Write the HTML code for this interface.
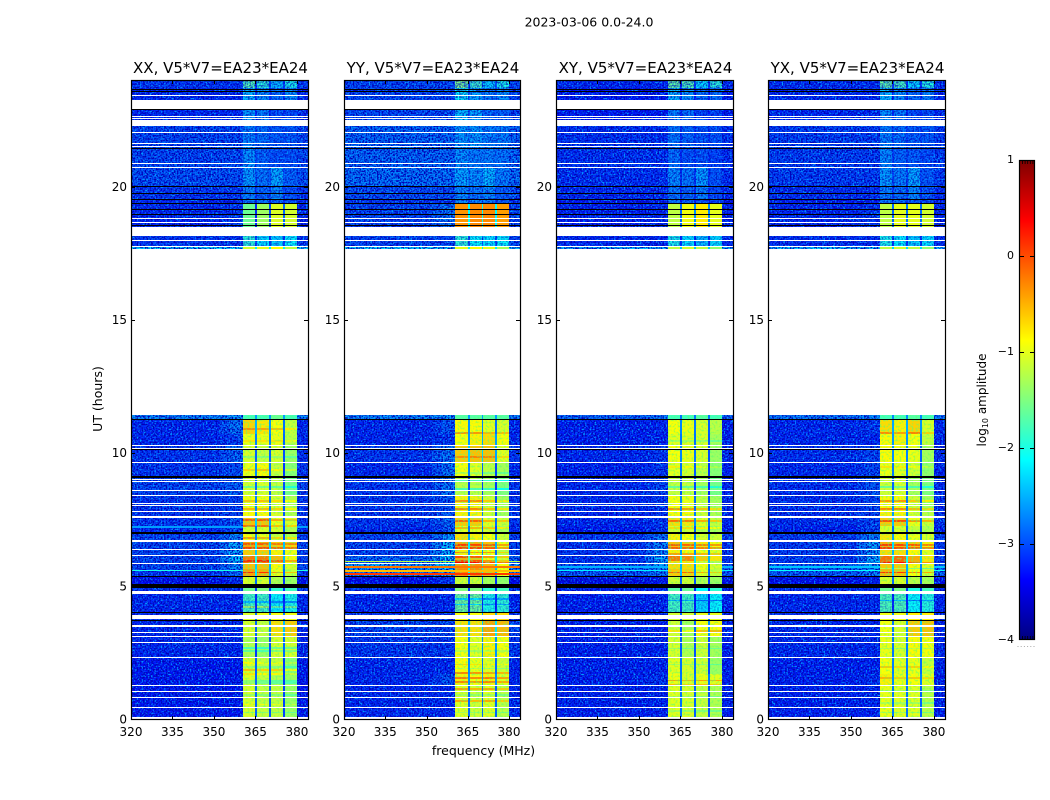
<!DOCTYPE html>
<html lang="en">
<head>
<meta charset="utf-8">
<title>2023-03-06 0.0-24.0</title>
<style>
html,body{margin:0;padding:0;background:#fff;width:1050px;height:800px;overflow:hidden}
svg{display:block;font-family:"DejaVu Sans","Liberation Sans",sans-serif;fill:#000}
</style>
</head>
<body>
<svg id="chart" xmlns="http://www.w3.org/2000/svg" width="1050" height="800" viewBox="0 0 1050 800">
<defs>
<filter id="speckleLight" x="0" y="0" width="100%" height="100%" color-interpolation-filters="sRGB">
<feTurbulence type="fractalNoise" baseFrequency="0.62" numOctaves="1" seed="4"/>
<feColorMatrix type="matrix" values="0 0 0 0 0  0 0 0 0 0.62  0 0 0 0 1  4.2 0 0 0 -1.95"/>
</filter>
<filter id="speckleDark" x="0" y="0" width="100%" height="100%" color-interpolation-filters="sRGB">
<feTurbulence type="fractalNoise" baseFrequency="0.62" numOctaves="1" seed="11"/>
<feColorMatrix type="matrix" values="0 0 0 0 0  0 0 0 0 0  0 0 0 0 0.72  0 4.2 0 0 -1.75"/>
</filter>
<filter id="speckleGreen" x="0" y="0" width="100%" height="100%" color-interpolation-filters="sRGB">
<feTurbulence type="fractalNoise" baseFrequency="0.5" numOctaves="1" seed="23"/>
<feColorMatrix type="matrix" values="0 0 0 0 0.35  0 0 0 0 1  0 0 0 0 0.45  4 0 0 0 -1.85"/>
</filter>
<linearGradient id="jetGradient" x1="0" y1="1" x2="0" y2="0"></linearGradient>
</defs>
<text x="589" y="26.5" text-anchor="middle" font-size="12.5">2023-03-06 0.0-24.0</text>
<text x="483.5" y="755" text-anchor="middle" font-size="12.5">frequency (MHz)</text>
<text x="0" y="0" transform="translate(102,399) rotate(-90)" text-anchor="middle" font-size="12.5">UT (hours)</text>
<text x="0" y="0" transform="translate(986,400) rotate(-90)" text-anchor="middle" font-size="12">log<tspan font-size="8" dy="2">10</tspan><tspan dy="-2"> amplitude</tspan></text>
</svg>
<script>
// ---- axis data ----
const panelTitles = ['XX, V5*V7=EA23*EA24', 'YY, V5*V7=EA23*EA24', 'XY, V5*V7=EA23*EA24', 'YX, V5*V7=EA23*EA24'];
const freqTicks = [320, 335, 350, 365, 380];
const timeTicks = [0, 5, 10, 15, 20];
const colorbarTicks = [1, 0, -1, -2, -3, -4];
// frequency columns (MHz) and which level each column reads
const freqEdges = [320, 352, 355.5, 360.5, 365, 365.7, 370, 370.7, 375, 375.7, 380, 384];
const freqKinds = ['bg', 'mid', 'sh', 's1', 'n12', 's2', 'n23', 's3', 'n34', 's4', 'bg'];
// time segments (hours)
const timeEdges = [24.0, 23.7, 23.0, 22.27, 21.5, 20.75, 20.0, 19.5, 19.38, 18.52, 18.14, 17.76, 17.67, 11.42, 11.28, 10.7, 10.28, 9.66, 9.1, 8.4, 7.8, 7.58, 7.25, 7.0, 6.7, 6.38, 6.15, 5.85, 5.63, 5.36, 5.06, 4.82, 4.05, 3.75, 3.1, 2.35, 1.7, 1.25, 0];
// log10 amplitude per time segment: background, shoulder, sub-band 1..4
const levelsXX = [
[-3.1,-3.1,-1.7,-1.9,-2.4,-2.0],[-3.2,-3.2,-2.4,-2.6,-2.8,-2.6],[-3.2,-3.2,-2.55,-2.7,-3.0,-3.0],[-3.0,-3.0,-2.7,-2.8,-2.9,-2.9],
[-3.0,-3.0,-2.6,-2.85,-2.95,-2.95],[-2.95,-2.95,-2.55,-2.75,-2.45,-2.85],[-3.1,-3.1,-2.7,-2.85,-2.65,-2.95],[-3.2,-3.2,-2.75,-2.75,-2.85,-2.95],
[-3.2,-3.1,-1.6,-1.35,-1.05,-1.1],[-3.2,-3.1,-1.6,-1.35,-1.05,-1.1],[-3.1,-3.1,-1.9,-2.2,-2.3,-2.1],[-2.2,-2.2,-1.1,-1.0,-0.9,-1.2],null,
[-2.6,-2.5,-1.8,-1.8,-1.6,-1.8],[-3.2,-2.7,-0.65,-0.75,-0.9,-1.15],[-3.2,-3.05,-0.95,-0.95,-0.95,-1.2],[-3.1,-2.8,-1.05,-1.15,-1.05,-1.35],
[-3.1,-2.95,-0.95,-0.85,-1.15,-1.45],[-3.0,-2.85,-1.05,-1.05,-1.15,-1.55],[-3.1,-3.0,-0.9,-0.9,-1.05,-1.25],[-3.1,-3.0,-0.85,-0.85,-1.05,-1.25],
[-3.1,-2.9,-0.55,-0.55,-0.95,-1.05],[-3.2,-3.0,-1.05,-1.05,-1.05,-1.25],[-3.0,-2.6,-0.85,-0.95,-1.15,-1.25],[-3.0,-2.4,-0.4,-0.45,-0.6,-0.65],
[-3.0,-2.4,-0.6,-0.6,-0.8,-0.95],[-3.0,-2.3,-0.2,-0.2,-0.5,-0.85],[-3.0,-2.6,-0.55,-0.55,-0.85,-1.05],[-3.1,-2.8,-0.4,-0.45,-0.95,-1.15],
[-3.4,-3.2,-1.05,-1.05,-1.25,-1.35],[-3.1,-3.1,-1.6,-1.5,-1.9,-1.8],[-3.2,-3.2,-1.8,-1.8,-2.1,-2.0],[-3.2,-3.2,-1.05,-0.95,-0.95,-0.95],
[-3.2,-3.2,-1.05,-1.15,-0.7,-0.6],[-3.2,-3.2,-1.25,-1.35,-1.05,-1.05],[-3.3,-3.3,-1.05,-1.15,-1.15,-1.45],[-3.3,-3.3,-1.0,-1.15,-1.25,-1.35],[-3.3,-3.3,-1.05,-1.15,-1.15,-1.35]
];
const levelsYY = [
[-3.0,-3.0,-1.5,-1.8,-2.3,-2.0],[-3.0,-3.0,-2.1,-2.5,-2.7,-2.6],[-3.0,-3.0,-2.35,-2.5,-2.85,-2.85],[-2.8,-2.8,-2.55,-2.55,-2.7,-2.7],
[-2.8,-2.8,-2.6,-2.7,-2.7,-2.75],[-2.75,-2.75,-2.5,-2.6,-2.4,-2.7],[-2.95,-2.95,-2.65,-2.75,-2.65,-2.9],[-3.1,-3.1,-2.6,-2.7,-2.7,-2.85],
[-3.0,-2.7,-0.35,-0.3,-0.3,-0.4],[-3.0,-2.7,-0.35,-0.3,-0.3,-0.4],[-3.0,-3.0,-1.9,-2.1,-2.2,-2.1],[-2.2,-2.2,-1.0,-0.9,-1.0,-1.3],null,
[-2.6,-2.5,-1.7,-1.7,-1.7,-1.7],[-3.2,-2.9,-0.85,-0.85,-1.0,-1.05],[-3.2,-3.1,-0.9,-0.8,-0.7,-0.9],[-3.1,-2.7,-0.6,-0.55,-0.55,-1.0],
[-3.2,-2.7,-0.9,-1.0,-1.2,-1.3],[-3.1,-2.7,-1.2,-1.2,-1.3,-1.5],[-3.1,-2.9,-0.8,-0.8,-1.1,-1.3],[-3.1,-2.9,-0.8,-0.8,-1.1,-1.3],
[-3.1,-2.8,-0.6,-0.6,-1.0,-1.1],[-3.2,-2.9,-1.0,-1.0,-1.1,-1.3],[-3.0,-2.5,-0.7,-0.8,-0.9,-1.1],[-3.0,-2.3,-0.4,-0.45,-0.55,-0.9],
[-3.0,-2.3,-0.8,-0.9,-0.9,-1.2],[-2.8,-2.2,0.05,-0.05,-0.35,-0.6],[-2.4,-2.2,-0.3,-0.3,-0.5,-0.9],[-2.6,-2.4,-0.25,-0.3,-0.5,-0.9],
[-3.4,-3.1,-1.1,-1.1,-1.3,-1.4],[-3.1,-3.1,-1.5,-1.5,-1.9,-1.8],[-3.2,-3.2,-1.6,-1.6,-2.0,-1.9],[-3.1,-3.1,-0.9,-0.9,-0.7,-0.7],
[-3.0,-3.0,-0.7,-0.7,-0.4,-0.5],[-3.1,-3.1,-0.9,-1.0,-0.8,-0.9],[-3.2,-3.2,-0.85,-0.95,-1.0,-1.1],[-3.2,-2.9,-0.8,-0.9,-0.8,-1.0],[-3.2,-3.2,-1.0,-1.1,-1.0,-1.2]
];
const levelsXY = [
[-3.2,-3.2,-1.6,-1.7,-2.2,-1.9],[-3.3,-3.3,-2.4,-2.6,-2.8,-2.8],[-3.3,-3.3,-2.7,-2.8,-3.05,-3.05],[-3.15,-3.15,-2.75,-2.85,-2.95,-2.95],
[-3.15,-3.15,-2.8,-2.95,-2.95,-3.05],[-3.15,-3.15,-2.65,-2.75,-2.55,-2.95],[-3.2,-3.2,-2.75,-2.85,-2.7,-3.0],[-3.3,-3.3,-2.75,-2.85,-2.95,-3.05],
[-3.25,-3.2,-1.2,-0.95,-0.8,-1.0],[-3.25,-3.2,-1.2,-0.95,-0.8,-1.0],[-3.2,-3.2,-2.0,-2.2,-2.4,-2.2],[-2.4,-2.4,-1.2,-1.1,-1.2,-1.4],null,
[-2.8,-2.7,-1.8,-1.8,-1.7,-1.8],[-3.25,-3.2,-0.9,-0.95,-1.05,-1.2],[-3.25,-3.25,-1.0,-1.0,-1.05,-1.3],[-3.2,-3.1,-0.9,-0.95,-1.05,-1.35],
[-3.25,-3.1,-1.0,-1.05,-1.2,-1.45],[-3.2,-3.0,-1.15,-1.15,-1.3,-1.55],[-3.2,-3.1,-0.9,-0.95,-1.15,-1.3],[-3.2,-3.1,-0.85,-0.85,-1.1,-1.25],
[-3.2,-3.1,-0.7,-0.75,-1.0,-1.15],[-3.3,-3.1,-1.1,-1.1,-1.2,-1.3],[-3.1,-2.7,-0.8,-0.9,-1.05,-1.1],[-3.1,-2.6,-0.55,-0.6,-0.75,-0.85],
[-3.1,-2.6,-0.8,-0.85,-0.9,-1.0],[-3.1,-2.4,-0.2,-0.25,-0.6,-0.75],[-2.9,-2.5,-0.7,-0.7,-0.9,-1.05],[-2.9,-2.7,-0.6,-0.65,-1.0,-1.15],
[-3.45,-3.3,-1.1,-1.1,-1.25,-1.35],[-3.2,-3.2,-1.7,-1.6,-2.1,-1.9],[-3.25,-3.25,-1.8,-1.8,-2.3,-2.1],[-3.2,-3.2,-1.1,-1.1,-1.0,-1.0],
[-3.25,-3.25,-1.1,-1.3,-0.9,-0.85],[-3.25,-3.25,-1.05,-1.25,-1.1,-1.3],[-3.25,-3.25,-1.0,-1.05,-1.1,-1.35],[-3.25,-3.15,-0.95,-1.05,-0.95,-1.0],[-3.25,-3.25,-1.0,-1.05,-1.15,-1.25]
];
const levelsYX = [
[-3.15,-3.15,-1.6,-1.75,-2.25,-1.95],[-3.2,-3.2,-2.4,-2.6,-2.8,-2.7],[-3.2,-3.2,-2.6,-2.75,-3.0,-3.0],[-3.05,-3.05,-2.7,-2.8,-2.9,-2.9],
[-3.05,-3.05,-2.65,-2.85,-2.9,-3.0],[-3.05,-3.05,-2.55,-2.7,-2.5,-2.9],[-3.15,-3.15,-2.7,-2.8,-2.65,-2.95],[-3.25,-3.25,-2.75,-2.8,-2.85,-3.0],
[-3.2,-3.1,-1.2,-1.0,-1.0,-1.1],[-3.2,-3.1,-1.2,-1.0,-1.0,-1.1],[-3.15,-3.15,-2.0,-2.15,-2.3,-2.2],[-2.3,-2.3,-1.2,-1.1,-1.2,-1.4],null,
[-2.7,-2.6,-1.8,-1.8,-1.7,-1.8],[-3.2,-3.1,-0.7,-0.8,-0.65,-1.05],[-3.2,-3.2,-0.85,-0.8,-0.9,-1.15],[-3.15,-3.0,-0.85,-0.9,-0.95,-1.3],
[-3.2,-3.0,-0.95,-1.0,-1.1,-1.4],[-3.15,-2.9,-1.1,-1.05,-1.3,-1.5],[-3.15,-3.0,-0.85,-0.85,-1.1,-1.3],[-3.15,-3.0,-0.8,-0.8,-1.05,-1.2],
[-3.15,-3.0,-0.6,-0.6,-0.95,-1.1],[-3.25,-3.0,-1.05,-1.05,-1.15,-1.25],[-3.05,-2.6,-0.75,-0.85,-0.95,-1.05],[-3.05,-2.45,-0.45,-0.5,-0.6,-0.8],
[-3.05,-2.5,-0.7,-0.7,-0.85,-1.0],[-3.05,-2.35,-0.15,-0.1,-0.45,-0.75],[-2.85,-2.45,-0.6,-0.6,-0.85,-1.0],[-2.85,-2.65,-0.5,-0.55,-0.9,-1.1],
[-3.4,-3.25,-1.05,-1.05,-1.2,-1.3],[-3.15,-3.15,-1.6,-1.55,-2.0,-1.8],[-3.2,-3.2,-1.75,-1.75,-2.1,-1.95],[-3.15,-3.15,-0.95,-0.95,-0.8,-0.8],
[-3.2,-3.2,-0.9,-1.05,-0.6,-0.55],[-3.2,-3.2,-0.95,-1.05,-0.85,-0.9],[-3.25,-3.25,-0.9,-1.0,-0.95,-1.15],[-3.25,-3.15,-0.8,-0.95,-0.9,-1.0],[-3.25,-3.25,-0.95,-1.0,-1.0,-1.2]
];
// narrow bright (+) or dim (-) spectral stripes across the sub-bands: [hour, change]
const stripesXX = [[10.95,0.35],[10.5,0.2],[9.9,-0.3],[9.4,0.3],[7.52,0.5],[7.3,0.4],[6.86,0.5],[6.63,0.4],[6.48,0.5],[5.98,0.4],[5.55,0.6],[8.75,-0.5],[8.25,0.35],[7.95,0.4],[4.45,-0.6],[4.25,0.45],[1.89,0.5],[1.48,-0.4],[1.4,-0.4],[2.72,-0.5],[2.6,-0.4],[2.15,0.2],[2.0,-0.3],[1.75,0.3],[0.95,-0.3],[0.6,0.2],[0.3,-0.3]];
const stripesYY = [[10.8,0.5],[9.9,0.3],[9.3,-0.3],[8.24,0.5],[7.93,0.55],[7.48,0.5],[7.23,0.5],[6.6,0.5],[6.48,0.5],[6.3,0.55],[5.92,0.4],[1.79,0.6],[1.6,0.6],[1.43,0.55],[1.18,0.6],[0.73,0.55],[9.0,-0.6],[8.7,-0.6],[4.55,-0.6],[4.35,-0.6],[6.05,-0.5],[2.6,-0.3],[2.1,0.2],[1.95,-0.3],[0.95,-0.3],[0.3,-0.3]];
const stripesXY = [[7.93,0.6],[7.48,0.55],[7.23,0.4],[6.6,0.5],[6.48,0.5],[6.25,0.4],[5.55,0.55],[5.95,-0.5],[1.5,0.55],[1.35,0.4],[8.75,-0.5],[4.5,-0.6],[3.35,0.35],[10.5,-0.3],[9.5,0.2],[2.7,-0.3],[2.1,-0.3],[0.9,-0.3],[0.35,-0.3]];
const stripesYX = [[10.8,0.4],[8.24,0.5],[7.93,0.6],[7.48,0.6],[6.6,0.55],[6.48,0.55],[5.9,0.4],[5.55,0.65],[5.7,-0.6],[8.75,-0.5],[4.5,-0.6],[2.0,0.3],[1.6,0.3],[9.5,0.2],[2.7,-0.3],[1.1,-0.3],[0.65,-0.3],[0.3,-0.3]];
// full-width emission lines: [hour, level]
const linesXX = [[7.25,-2.6],[5.62,-2.0]];
const linesYY = [[5.96,-1.2],[5.76,-0.2],[5.6,-0.55],[5.5,0.1]];
const linesXY = [[5.75,-2.5],[5.62,-2.2]];
const linesYX = [[5.75,-2.4],[5.62,-2.1]];
// blanked (white) and flagged (black) times: [from hour, to hour]
const blankRows = [[23.43,23.39],[23.25,23.0],[22.97,22.93],[22.65,22.61],[22.58,22.54],[22.51,22.27],[22.06,22.02],[21.65,21.61],[21.54,21.5],[20.9,20.86],[20.75,20.71],[18.82,18.78],[18.67,18.63],[18.5,18.14],[18.0,17.96],[17.76,17.72],[17.67,11.42],[10.3,10.26],[10.2,10.17],[9.66,9.62],[9.02,8.98],[8.95,8.91],[8.61,8.57],[8.42,8.38],[8.12,8.08],[8.05,8.01],[7.82,7.78],[7.63,7.56],[6.72,6.68],[6.4,6.36],[6.17,6.13],[5.87,5.83],[4.82,4.71],[3.93,3.77],[3.53,3.49],[3.3,3.26],[3.15,3.11],[2.91,2.87],[2.36,2.32],[1.29,1.25],[1.07,1.03],[0.84,0.8],[0.47,0.43],[0.11,0.08],[0.04,0.01]];
const flagRows = [[23.66,23.62],[23.58,23.54],[22.9,22.86],[21.45,21.41],[20.02,19.98],[19.76,19.72],[19.53,19.49],[19.4,19.36],[19.16,19.12],[18.97,18.93],[18.55,18.51],[11.28,11.24],[10.16,10.12],[9.12,9.08],[7.02,6.98],[5.38,5.34],[5.08,4.95],[4.05,3.98],[3.75,3.71]];

const panelLevels = [levelsXX, levelsYY, levelsXY, levelsYX];
const panelStripes = [stripesXX, stripesYY, stripesXY, stripesYX];
const panelLines = [linesXX, linesYY, linesXY, linesYX];

// ---- layout (not data) ----
const svg = document.getElementById('chart');
const NS = 'http://www.w3.org/2000/svg';
const panelLeft = [131, 344, 556, 768];
const panelWidth = [177, 176, 177, 177];
const top_ = 80, bottom_ = 720;

function make(tag, attrs, parent) {
  const el = document.createElementNS(NS, tag);
  for (const k in attrs) el.setAttribute(k, attrs[k]);
  (parent || svg).appendChild(el);
  return el;
}
function xScale(i, f) { return panelLeft[i] + (f - 320) * panelWidth[i] / 64; }
function yScale(t) { return 719.5 - t * 639.5 / 24; }
function cbScale(v) { return 640 - (v + 4) * 96; }
function jet(v) {
  const t = Math.max(0, Math.min(1, (v + 4) / 5));
  const ch = (a) => Math.round(255 * Math.max(0, Math.min(1, 1.5 - Math.abs(4 * t - a))));
  return 'rgb(' + ch(3) + ',' + ch(2) + ',' + ch(1) + ')';
}
function rowRect(i, tA, tB, fA, fB, fill, parent) {
  const x = Math.round(xScale(i, fA)), x2 = Math.round(xScale(i, fB));
  const y = Math.round(yScale(tA)), y2 = Math.max(y + 1, Math.round(yScale(tB)));
  return make('rect', {x: x, y: y, width: x2 - x, height: y2 - y, fill: fill, 'shape-rendering': 'crispEdges'}, parent);
}
function columnLevel(kind, row) {
  const [bg, sh, s1, s2, s3, s4] = row;
  const notch = (a, b) => Math.max(bg, (a + b) / 2 - 1.8);
  switch (kind) {
    case 'bg': return bg;
    case 'mid': return (bg + sh) / 2;
    case 'sh': return sh;
    case 's1': return s1;
    case 's2': return s2;
    case 's3': return s3;
    case 's4': return s4;
    case 'n12': return notch(s1, s2);
    case 'n23': return notch(s2, s3);
    default: return notch(s3, s4);
  }
}

panelTitles.forEach((title, p) => {
  const g = make('g', {});
  
  

  // heatmap cells
  panelLevels[p].forEach((row, r) => {
    if (!row) return;
    freqKinds.forEach((kind, c) => {
      const cell = rowRect(p, timeEdges[r], timeEdges[r + 1], freqEdges[c], freqEdges[c + 1], jet(columnLevel(kind, row)), g);
      
      
    });
  });

  // spectral stripes in the sub-bands
  panelStripes[p].forEach(([t, change]) => {
    const r = timeEdges.findIndex((e, k) => e >= t && timeEdges[k + 1] < t);
    const row = panelLevels[p][r];
    if (!row) return;
    [[360.5, 365, row[2]], [365.7, 370, row[3]], [370.7, 375, row[4]], [375.7, 380, row[5]]].forEach(([a, b, lv]) => {
      const st = rowRect(p, t, t - 0.07, a, b, jet(lv + change), g);
      
      
    });
  });

  // speckle texture: strong on the background, softer over the weak sub-band rows
  [[320, 360.5, 24, 0, 1], [380, 384, 24, 0, 1], [360.5, 380, 24, 19.38, 0.7], [360.5, 380, 18.14, 17.76, 0.5], [360.5, 380, 4.82, 4.05, 0.3]].forEach(([a, b, tA, tB, op]) => {
    ['speckleLight', 'speckleDark'].forEach((fid) => {
      const s = rowRect(p, tA, tB, a, b, '#000', g);
      s.setAttribute('filter', 'url(#' + fid + ')');
      s.setAttribute('opacity', op);
      
      
    });
  });
  // green-yellow grain on the bright sub-bands
  [[360.5, 365], [365.7, 370], [370.7, 375], [375.7, 380]].forEach(([a, b]) => {
    [[11.42, 5.06], [3.75, 0]].forEach(([tA, tB]) => {
      const s = rowRect(p, tA, tB, a, b, '#000', g);
      s.setAttribute('filter', 'url(#speckleGreen)');
      s.setAttribute('opacity', 0.55);
      
      
    });
  });

  // emission lines: faint ones only show outside the sub-bands
  panelLines[p].forEach(([t, lv]) => {
    const spans = lv >= -0.6 ? [[320, 384]] : [[320, 360.5], [380, 384]];
    spans.forEach(([a, b]) => {
      const ln = rowRect(p, t, t - 0.06, a, b, jet(lv), g);
      
      
    });
  });

  // flagged and blanked rows
  flagRows.forEach(([tA, tB]) => {
    const f = rowRect(p, tA, tB, 320, 384, '#000', g);
    
    
  });
  blankRows.forEach(([tA, tB]) => {
    const b = rowRect(p, tA, tB, 320, 384, '#fff', g);
    
    
  });

  // ticks and labels
  const left = panelLeft[p], right = left + panelWidth[p];
  freqTicks.forEach((f) => {
    const x = Math.round(xScale(p, f)) + 0.5;
    const t1 = make('line', {x1: x, x2: x, y1: top_, y2: top_ + 4, stroke: '#000', 'stroke-width': 1}, g);
    
    
    const t2 = make('line', {x1: x, x2: x, y1: bottom_, y2: bottom_ - 4, stroke: '#000', 'stroke-width': 1}, g);
    
    
    const lab = make('text', {x: xScale(p, f), y: 736, 'text-anchor': 'middle', 'font-size': 12}, g);
    lab.textContent = String(f);
    
    
  });
  timeTicks.forEach((t) => {
    const y = Math.round(yScale(t)) + 0.5 - (t === 0 ? 1 : 0);
    const t1 = make('line', {x1: left, x2: left + 4, y1: y, y2: y, stroke: '#000', 'stroke-width': 1}, g);
    
    
    const t2 = make('line', {x1: right, x2: right - 4, y1: y, y2: y, stroke: '#000', 'stroke-width': 1}, g);
    
    
    const lab = make('text', {x: left - 4, y: yScale(t) + 4.2, 'text-anchor': 'end', 'font-size': 12}, g);
    lab.textContent = String(t);
    
    
  });

  // frame and title
  const frame = make('rect', {x: left + 0.5, y: top_ + 0.5, width: panelWidth[p], height: bottom_ - top_ - 1, fill: 'none', stroke: '#000', 'stroke-width': 1.2}, g);
  
  
  const ttl = make('text', {x: left + panelWidth[p] / 2 + 1, y: 73, 'text-anchor': 'middle', 'font-size': 15}, g);
  ttl.textContent = title;
  
  
});

// ---- colorbar ----
const grad = document.getElementById('jetGradient');
colorbarStops();
function colorbarStops() {
  for (let k = 0; k <= 40; k++) {
    make('stop', {offset: (k / 40), 'stop-color': jet(-4 + k / 8)}, grad);
  }
}
const cb = make('g', {});


const cbBar = make('rect', {x: 1019.5, y: 160.5, width: 15, height: 479, fill: 'url(#jetGradient)', stroke: '#000', 'stroke-width': 1.2}, cb);


colorbarTicks.forEach((v) => {
  const y = Math.round(cbScale(v)) + 0.5;
  if (v > -4 && v < 1) {
    const a = make('line', {x1: 1019.5, x2: 1024, y1: y, y2: y, stroke: '#000'}, cb);
    
    
    const b = make('line', {x1: 1030, x2: 1034.5, y1: y, y2: y, stroke: '#000'}, cb);
    
    
  }
  const lab = make('text', {x: 1014, y: cbScale(v) + 3, 'text-anchor': 'end', 'font-size': 11}, cb);
  lab.textContent = String(v).replace('-', '\u2212');
  
  
});
for (let k = 0; k < 5; k++) {
  const x = 1022.5 + k * 2.6;
  const up = make('line', {x1: x, x2: x, y1: 160, y2: 164, stroke: '#000', 'stroke-width': 0.8}, cb);
  
  
  const dn = make('line', {x1: x, x2: x, y1: 640, y2: 636, stroke: '#000', 'stroke-width': 0.8}, cb);
  
  
}
for (let k = 0; k < 6; k++) {
  const dot = make('rect', {x: 1017.5 + k * 3.2, y: 646, width: 1, height: 1, fill: '#aaa'}, cb);
  
  
}
</script>
</body>
</html>
